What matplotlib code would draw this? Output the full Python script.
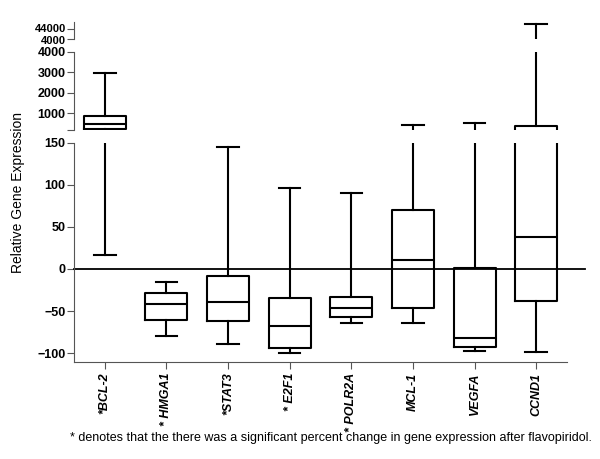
import matplotlib
matplotlib.use("Agg")
import matplotlib.pyplot as plt
import matplotlib.transforms as mtransforms

plt.rcParams['font.family'] = ['Liberation Sans', 'DejaVu Sans']

# data
genes = ['BCL-2', 'HMGA1', 'STAT3', 'E2F1', 'POLR2A', 'MCL-1', 'VEGFA', 'CCND1']
prefix = ['*', '* ', '*', '* ', '* ', '', '', '']
whislo = [17, -80, -89, -99.6, -64, -64, -97, -98.5]
q1 = [200, -60.5, -62, -94.5, -57, -47, -92.5, -38.5]
med = [480, -42, -39, -68, -47, 11, -82.5, 38]
q3 = [850, -28.6, -8.3, -35, -33, 70, 1, 350]
whishi = [2980, -15.5, 145, 96, 90, 430, 540, 65000]

# y-axis segments (bottom to top)
seg_low = (-110, 150)
seg_mid = (150, 4000)
seg_top = (4000, 74400)

stats = []
for i in range(len(genes)):
    stats.append(dict(whislo=whislo[i], q1=q1[i], med=med[i], q3=q3[i],
                      whishi=whishi[i], fliers=[]))

fig = plt.figure(figsize=(6, 4.59), dpi=100)
left, width = 0.1233, 0.8217
ax_low = fig.add_axes([left, 0.2124, width, 0.4767])
ax_mid = fig.add_axes([left, 0.7157, width, 0.1717])
ax_top = fig.add_axes([left, 0.9144, width, 0.0383])

grey = '#555555'
lw = 1.5
for ax, seg in ((ax_low, seg_low), (ax_mid, seg_mid), (ax_top, seg_top)):
    ax.set_ylim(*seg)
    parts = ax.bxp(stats, positions=range(len(genes)), widths=0.68,
                   capwidths=0.35, showfliers=False,
                   boxprops=dict(color='black', linewidth=lw),
                   whiskerprops=dict(color='black', linewidth=lw),
                   capprops=dict(color='black', linewidth=lw),
                   medianprops=dict(color='black', linewidth=lw))
    # hide pieces lying wholly outside this segment (they leak at the edge)
    for key in ('caps', 'medians', 'boxes', 'whiskers'):
        for art in parts[key]:
            yd = art.get_ydata()
            if max(yd) < seg[0] or min(yd) > seg[1]:
                art.set_visible(False)
    ax.set_xlim(-0.5, len(genes) - 0.5)
    for s in ('top', 'right'):
        ax.spines[s].set_visible(False)
    ax.spines['left'].set_color(grey)
    ax.tick_params(axis='y', direction='out', length=5, color=grey, pad=1)

ax_low.set_yticks([-100, -50, 0, 50, 100, 150])
ax_mid.set_yticks([150, 1000, 2000, 3000, 4000])
ax_mid.set_yticklabels(['', '1000', '2000', '3000', '4000'])
ax_top.set_yticks([4000, 44000])
ax_top.set_yticklabels(['4000', '44000'])
for ax in (ax_low, ax_mid, ax_top):
    for t in ax.get_yticklabels():
        t.set_fontweight('bold')
        t.set_fontsize(9)
# the two top labels sit very close: shrink a bit and nudge apart
top_labels = ax_top.get_yticklabels()
for t in top_labels:
    t.set_fontsize(8)
top_labels[0].set_transform(top_labels[0].get_transform() +
                            mtransforms.ScaledTranslation(0, -1 / 100,
                                                          fig.dpi_scale_trans))
top_labels[1].set_transform(top_labels[1].get_transform() +
                            mtransforms.ScaledTranslation(0, 1 / 100,
                                                          fig.dpi_scale_trans))

for ax in (ax_mid, ax_top):
    ax.spines['bottom'].set_visible(False)
    ax.tick_params(axis='x', bottom=False, labelbottom=False)

ax_low.spines['bottom'].set_color(grey)
ax_low.set_xticks(range(len(genes)))
ax_low.set_xticklabels([p + g for p, g in zip(prefix, genes)], rotation=90,
                       fontsize=9, fontweight='bold', fontstyle='italic')
ax_low.tick_params(axis='x', direction='out', length=5, color=grey, pad=3)

# zero line running past the axis end
ax_low.axhline(0, xmin=0, xmax=1.037, color='black', linewidth=1.3,
               clip_on=False)

fig.text(18 / 600, 1 - 192 / 459, 'Relative Gene Expression', rotation=90,
         ha='center', va='center', fontsize=10)
fig.text(331 / 600, 1 - 438 / 459,
         '* denotes that the there was a significant percent change in gene '
         'expression after flavopiridol.', ha='center', va='center', fontsize=9)

fig.savefig('out.png', dpi=100)
